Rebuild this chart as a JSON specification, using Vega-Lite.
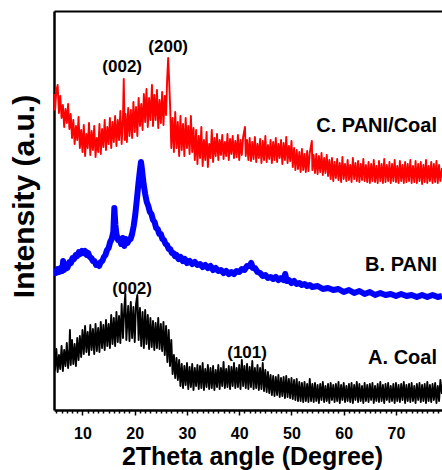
{
  "$schema": "https://vega.github.io/schema/vega-lite/v6.json",
  "autosize": "none",
  "width": 388,
  "height": 399,
  "padding": {"left": 54, "top": 11, "right": 0, "bottom": 60},
  "config": {
    "view": {"stroke": null},
    "font": "Liberation Sans",
    "axis": {"grid": false},
    "axisY": {
      "labels": false, "ticks": false,
      "domainColor": "#000000", "domainWidth": 2.5,
      "titleColor": "#000000", "titleFontSize": 30, "titleFontWeight": "bold",
      "titlePadding": 15, "titleY": 185
    }
  },
  "datasets": {
    "paniCoal": [
      {"angle":4.6,"counts":316},{"angle":4.75,"counts":300},{"angle":5.0,"counts":319},{"angle":5.25,"counts":325},{"angle":5.5,"counts":297},{"angle":5.75,"counts":314},{"angle":6.0,"counts":292},{"angle":6.25,"counts":305},{"angle":6.5,"counts":283},{"angle":6.75,"counts":301},{"angle":7.0,"counts":287},{"angle":7.25,"counts":306},{"angle":7.5,"counts":281},{"angle":7.75,"counts":296},{"angle":8.0,"counts":272},{"angle":8.25,"counts":290},{"angle":8.5,"counts":266},{"angle":8.75,"counts":284},{"angle":9.0,"counts":270},{"angle":9.25,"counts":293},{"angle":9.5,"counts":262},{"angle":9.75,"counts":280},
      {"angle":10.0,"counts":258},{"angle":10.25,"counts":285},{"angle":10.5,"counts":254},{"angle":10.75,"counts":276},{"angle":11.0,"counts":262},{"angle":11.25,"counts":287},{"angle":11.5,"counts":255},{"angle":11.75,"counts":279},{"angle":12.0,"counts":260},{"angle":12.25,"counts":284},{"angle":12.5,"counts":253},{"angle":12.75,"counts":272},{"angle":13.0,"counts":258},{"angle":13.25,"counts":286},{"angle":13.5,"counts":256},{"angle":13.75,"counts":281},{"angle":14.0,"counts":263},{"angle":14.25,"counts":290},{"angle":14.5,"counts":260},{"angle":14.75,"counts":283},{"angle":15.0,"counts":266},{"angle":15.25,"counts":292},{"angle":15.5,"counts":262},{"angle":15.75,"counts":288},{"angle":16.0,"counts":268},{"angle":16.25,"counts":294},{"angle":16.5,"counts":264},{"angle":16.75,"counts":290},{"angle":17.0,"counts":270},{"angle":17.25,"counts":299},{"angle":17.5,"counts":266},{"angle":17.75,"counts":292},{"angle":17.9,"counts":331},{"angle":18.1,"counts":270},{"angle":18.25,"counts":296},{"angle":18.5,"counts":268},{"angle":18.75,"counts":302},{"angle":19.0,"counts":274},{"angle":19.25,"counts":300},{"angle":19.5,"counts":272},{"angle":19.75,"counts":308},
      {"angle":20.0,"counts":278},{"angle":20.25,"counts":303},{"angle":20.5,"counts":274},{"angle":20.75,"counts":312},{"angle":21.0,"counts":284},{"angle":21.25,"counts":306},{"angle":21.5,"counts":280},{"angle":21.75,"counts":316},{"angle":22.0,"counts":288},{"angle":22.25,"counts":321},{"angle":22.5,"counts":283},{"angle":22.75,"counts":312},{"angle":23.0,"counts":290},{"angle":23.3,"counts":325},{"angle":23.5,"counts":284},{"angle":23.75,"counts":315},{"angle":24.0,"counts":290},{"angle":24.25,"counts":320},{"angle":24.5,"counts":282},{"angle":24.75,"counts":310},{"angle":25.0,"counts":287},{"angle":25.25,"counts":318},{"angle":25.5,"counts":285},{"angle":25.75,"counts":314},{"angle":26.0,"counts":295},{"angle":26.2,"counts":330},{"angle":26.4,"counts":352},{"angle":26.6,"counts":328},{"angle":26.8,"counts":300},{"angle":27.0,"counts":262},{"angle":27.25,"counts":292},{"angle":27.5,"counts":258},{"angle":27.75,"counts":298},{"angle":28.0,"counts":262},{"angle":28.25,"counts":288},{"angle":28.5,"counts":254},{"angle":28.75,"counts":294},{"angle":29.0,"counts":260},{"angle":29.25,"counts":286},{"angle":29.5,"counts":254},{"angle":29.75,"counts":292},
      {"angle":30.0,"counts":262},{"angle":30.25,"counts":284},{"angle":30.5,"counts":256},{"angle":30.75,"counts":294},{"angle":31.0,"counts":258},{"angle":31.25,"counts":282},{"angle":31.5,"counts":250},{"angle":31.75,"counts":280},{"angle":32.0,"counts":246},{"angle":32.25,"counts":274},{"angle":32.5,"counts":252},{"angle":32.75,"counts":283},{"angle":33.0,"counts":244},{"angle":33.25,"counts":270},{"angle":33.5,"counts":250},{"angle":33.75,"counts":278},{"angle":34.0,"counts":243},{"angle":34.25,"counts":266},{"angle":34.5,"counts":252},{"angle":34.75,"counts":280},{"angle":35.0,"counts":248},{"angle":35.25,"counts":272},{"angle":35.5,"counts":254},{"angle":35.75,"counts":276},{"angle":36.0,"counts":250},{"angle":36.25,"counts":270},{"angle":36.5,"counts":255},{"angle":36.75,"counts":275},{"angle":37.0,"counts":251},{"angle":37.25,"counts":268},{"angle":37.5,"counts":254},{"angle":37.75,"counts":276},{"angle":38.0,"counts":250},{"angle":38.25,"counts":271},{"angle":38.5,"counts":256},{"angle":38.75,"counts":274},{"angle":39.0,"counts":252},{"angle":39.25,"counts":269},{"angle":39.5,"counts":253},{"angle":39.75,"counts":275},
      {"angle":40.0,"counts":250},{"angle":40.25,"counts":270},{"angle":40.5,"counts":255},{"angle":40.75,"counts":273},{"angle":41.1,"counts":283},{"angle":41.25,"counts":254},{"angle":41.5,"counts":270},{"angle":41.75,"counts":250},{"angle":42.0,"counts":272},{"angle":42.25,"counts":249},{"angle":42.5,"counts":268},{"angle":42.75,"counts":251},{"angle":43.0,"counts":273},{"angle":43.25,"counts":248},{"angle":43.5,"counts":266},{"angle":43.75,"counts":252},{"angle":44.0,"counts":271},{"angle":44.25,"counts":247},{"angle":44.5,"counts":269},{"angle":44.75,"counts":250},{"angle":45.0,"counts":274},{"angle":45.25,"counts":248},{"angle":45.5,"counts":265},{"angle":45.75,"counts":251},{"angle":46.0,"counts":270},{"angle":46.25,"counts":247},{"angle":46.5,"counts":268},{"angle":46.75,"counts":250},{"angle":47.0,"counts":272},{"angle":47.25,"counts":248},{"angle":47.5,"counts":266},{"angle":47.75,"counts":252},{"angle":48.0,"counts":270},{"angle":48.25,"counts":246},{"angle":48.5,"counts":267},{"angle":48.75,"counts":250},{"angle":49.0,"counts":273},{"angle":49.25,"counts":247},{"angle":49.5,"counts":264},{"angle":49.75,"counts":249},
      {"angle":50.0,"counts":269},{"angle":50.25,"counts":243},{"angle":50.5,"counts":262},{"angle":50.75,"counts":240},{"angle":51.0,"counts":260},{"angle":51.25,"counts":241},{"angle":51.5,"counts":258},{"angle":51.75,"counts":238},{"angle":52.0,"counts":261},{"angle":52.25,"counts":240},{"angle":52.5,"counts":256},{"angle":52.75,"counts":238},{"angle":53.0,"counts":259},{"angle":53.25,"counts":239},{"angle":53.5,"counts":257},{"angle":53.9,"counts":269},{"angle":54.0,"counts":240},{"angle":54.25,"counts":255},{"angle":54.5,"counts":237},{"angle":54.75,"counts":256},{"angle":55.0,"counts":236},{"angle":55.25,"counts":254},{"angle":55.5,"counts":238},{"angle":55.75,"counts":257},{"angle":56.0,"counts":235},{"angle":56.25,"counts":252},{"angle":56.5,"counts":237},{"angle":56.75,"counts":255},{"angle":57.0,"counts":234},{"angle":57.25,"counts":250},{"angle":57.5,"counts":231},{"angle":57.75,"counts":252},{"angle":58.0,"counts":229},{"angle":58.25,"counts":248},{"angle":58.5,"counts":232},{"angle":58.75,"counts":251},{"angle":59.0,"counts":230},{"angle":59.25,"counts":247},{"angle":59.5,"counts":228},{"angle":59.75,"counts":253},
      {"angle":60.0,"counts":231},{"angle":60.25,"counts":246},{"angle":60.5,"counts":229},{"angle":60.75,"counts":250},{"angle":61.0,"counts":230},{"angle":61.25,"counts":245},{"angle":61.5,"counts":228},{"angle":61.75,"counts":252},{"angle":62.0,"counts":231},{"angle":62.25,"counts":247},{"angle":62.5,"counts":229},{"angle":62.75,"counts":249},{"angle":63.0,"counts":228},{"angle":63.25,"counts":246},{"angle":63.5,"counts":230},{"angle":63.75,"counts":251},{"angle":64.0,"counts":229},{"angle":64.25,"counts":245},{"angle":64.5,"counts":228},{"angle":64.75,"counts":248},{"angle":65.0,"counts":227},{"angle":65.25,"counts":246},{"angle":65.5,"counts":229},{"angle":65.75,"counts":250},{"angle":66.0,"counts":228},{"angle":66.25,"counts":244},{"angle":66.5,"counts":227},{"angle":66.75,"counts":249},{"angle":67.0,"counts":229},{"angle":67.25,"counts":246},{"angle":67.5,"counts":227},{"angle":67.75,"counts":251},{"angle":68.0,"counts":228},{"angle":68.25,"counts":245},{"angle":68.5,"counts":229},{"angle":68.75,"counts":248},{"angle":69.0,"counts":227},{"angle":69.25,"counts":246},{"angle":69.5,"counts":229},{"angle":69.75,"counts":250},
      {"angle":70.0,"counts":228},{"angle":70.25,"counts":244},{"angle":70.5,"counts":227},{"angle":70.75,"counts":249},{"angle":71.0,"counts":229},{"angle":71.25,"counts":245},{"angle":71.5,"counts":227},{"angle":71.75,"counts":248},{"angle":72.0,"counts":228},{"angle":72.25,"counts":246},{"angle":72.5,"counts":229},{"angle":72.75,"counts":250},{"angle":73.0,"counts":227},{"angle":73.25,"counts":244},{"angle":73.5,"counts":228},{"angle":73.75,"counts":249},{"angle":74.0,"counts":227},{"angle":74.25,"counts":246},{"angle":74.5,"counts":229},{"angle":74.75,"counts":248},{"angle":75.0,"counts":226},{"angle":75.25,"counts":245},{"angle":75.5,"counts":228},{"angle":75.75,"counts":250},{"angle":76.0,"counts":227},{"angle":76.25,"counts":244},{"angle":76.5,"counts":229},{"angle":76.75,"counts":248},{"angle":77.0,"counts":227},{"angle":77.25,"counts":246},{"angle":77.5,"counts":228},{"angle":77.75,"counts":249},{"angle":78.0,"counts":227},{"angle":78.25,"counts":245},{"angle":78.5,"counts":229},{"angle":78.8,"counts":242}
    ],
    "pani": [
      {"angle":4.6,"counts":140},{"angle":4.9,"counts":137},{"angle":5.2,"counts":141},{"angle":5.5,"counts":138},{"angle":5.8,"counts":142},{"angle":6.1,"counts":139},{"angle":6.3,"counts":149},{"angle":6.5,"counts":140},{"angle":6.8,"counts":144},{"angle":7.1,"counts":142},{"angle":7.5,"counts":148},{"angle":7.8,"counts":147},{"angle":8.1,"counts":152},{"angle":8.4,"counts":151},{"angle":8.7,"counts":155},{"angle":9.0,"counts":154},{"angle":9.3,"counts":158},{"angle":9.6,"counts":156},{"angle":9.9,"counts":159},{"angle":10.2,"counts":157},{"angle":10.5,"counts":159},{"angle":10.8,"counts":155},{"angle":11.1,"counts":157},{"angle":11.4,"counts":153},{"angle":11.7,"counts":152},{"angle":12.0,"counts":149},{"angle":12.3,"counts":149},{"angle":12.6,"counts":145},{"angle":12.9,"counts":146},{"angle":13.2,"counts":144},{"angle":13.5,"counts":148},{"angle":13.8,"counts":149},{"angle":14.1,"counts":153},{"angle":14.4,"counts":155},{"angle":14.7,"counts":160},{"angle":15.0,"counts":162},{"angle":15.3,"counts":168},{"angle":15.6,"counts":171},{"angle":15.9,"counts":178},{"angle":16.1,"counts":202},{"angle":16.3,"counts":185},{"angle":16.5,"counts":176},{"angle":16.8,"counts":170},{"angle":17.1,"counts":171},{"angle":17.4,"counts":166},{"angle":17.7,"counts":172},{"angle":18.0,"counts":164},{"angle":18.3,"counts":171},{"angle":18.6,"counts":167},{"angle":18.9,"counts":170},{"angle":19.2,"counts":171},{"angle":19.5,"counts":176},{"angle":19.8,"counts":184},
      {"angle":20.1,"counts":195},{"angle":20.4,"counts":210},{"angle":20.7,"counts":226},{"angle":21.0,"counts":240},{"angle":21.2,"counts":248},{"angle":21.4,"counts":240},{"angle":21.7,"counts":226},{"angle":22.0,"counts":216},{"angle":22.3,"counts":208},{"angle":22.6,"counts":204},{"angle":22.9,"counts":198},{"angle":23.2,"counts":196},{"angle":23.5,"counts":190},{"angle":23.8,"counts":188},{"angle":24.1,"counts":182},{"angle":24.4,"counts":181},{"angle":24.7,"counts":176},{"angle":25.0,"counts":176},{"angle":25.3,"counts":171},{"angle":25.6,"counts":170},{"angle":25.9,"counts":166},{"angle":26.2,"counts":165},{"angle":26.5,"counts":161},{"angle":26.8,"counts":161},{"angle":27.1,"counts":157},{"angle":27.4,"counts":157},{"angle":27.7,"counts":154},{"angle":28.0,"counts":155},{"angle":28.4,"counts":151},{"angle":28.8,"counts":153},{"angle":29.2,"counts":149},{"angle":29.6,"counts":151},{"angle":30.0,"counts":147},{"angle":30.5,"counts":149},{"angle":31.0,"counts":146},{"angle":31.5,"counts":148},{"angle":32.0,"counts":145},{"angle":32.5,"counts":146},{"angle":33.0,"counts":143},{"angle":33.5,"counts":145},{"angle":34.0,"counts":142},{"angle":34.5,"counts":144},{"angle":35.0,"counts":140},{"angle":35.5,"counts":142},{"angle":36.0,"counts":139},{"angle":36.5,"counts":140},{"angle":37.0,"counts":137},{"angle":37.5,"counts":139},{"angle":38.0,"counts":136},{"angle":38.5,"counts":138},{"angle":39.0,"counts":136},{"angle":39.5,"counts":139},
      {"angle":40.0,"counts":138},{"angle":40.5,"counts":141},{"angle":41.0,"counts":140},{"angle":41.5,"counts":144},{"angle":42.0,"counts":144},{"angle":42.3,"counts":147},{"angle":42.6,"counts":142},{"angle":43.0,"counts":142},{"angle":43.5,"counts":138},{"angle":44.0,"counts":137},{"angle":44.5,"counts":134},{"angle":45.0,"counts":135},{"angle":45.5,"counts":132},{"angle":46.0,"counts":133},{"angle":46.5,"counts":131},{"angle":47.0,"counts":133},{"angle":47.5,"counts":130},{"angle":48.0,"counts":132},{"angle":48.5,"counts":130},{"angle":48.8,"counts":136},{"angle":49.1,"counts":129},{"angle":49.5,"counts":130},{"angle":50.0,"counts":127},{"angle":50.5,"counts":129},{"angle":51.0,"counts":126},{"angle":51.5,"counts":127},{"angle":52.0,"counts":125},{"angle":52.5,"counts":126},{"angle":53.0,"counts":124},{"angle":53.5,"counts":125},{"angle":54.0,"counts":123},{"angle":55.0,"counts":124},{"angle":56.0,"counts":121},{"angle":57.0,"counts":122},{"angle":58.0,"counts":120},{"angle":59.0,"counts":121},{"angle":60.0,"counts":118},{"angle":61.0,"counts":120},{"angle":62.0,"counts":117},{"angle":63.0,"counts":119},{"angle":64.0,"counts":116},{"angle":65.0,"counts":118},{"angle":66.0,"counts":115},{"angle":67.0,"counts":117},{"angle":68.0,"counts":115},{"angle":69.0,"counts":116},{"angle":70.0,"counts":114},{"angle":71.0,"counts":116},{"angle":72.0,"counts":114},{"angle":73.0,"counts":115},{"angle":74.0,"counts":113},{"angle":75.0,"counts":115},{"angle":76.0,"counts":113},{"angle":77.0,"counts":115},{"angle":78.0,"counts":113},{"angle":78.8,"counts":114}
    ],
    "coal": [
      {"angle":4.6,"counts":58},{"angle":4.75,"counts":40},{"angle":5.0,"counts":61},{"angle":5.25,"counts":38},{"angle":5.5,"counts":55},{"angle":5.75,"counts":41},{"angle":6.0,"counts":64},{"angle":6.25,"counts":39},{"angle":6.5,"counts":60},{"angle":6.75,"counts":44},{"angle":7.0,"counts":67},{"angle":7.25,"counts":42},{"angle":7.5,"counts":62},{"angle":7.6,"counts":80},{"angle":7.75,"counts":45},{"angle":8.0,"counts":70},{"angle":8.25,"counts":46},{"angle":8.5,"counts":66},{"angle":8.75,"counts":44},{"angle":9.0,"counts":72},{"angle":9.25,"counts":50},{"angle":9.5,"counts":74},{"angle":9.75,"counts":53},
      {"angle":10.0,"counts":80},{"angle":10.25,"counts":56},{"angle":10.5,"counts":84},{"angle":10.75,"counts":58},{"angle":11.0,"counts":78},{"angle":11.25,"counts":55},{"angle":11.5,"counts":85},{"angle":11.75,"counts":60},{"angle":12.0,"counts":81},{"angle":12.25,"counts":56},{"angle":12.5,"counts":86},{"angle":12.75,"counts":59},{"angle":13.0,"counts":82},{"angle":13.25,"counts":58},{"angle":13.5,"counts":88},{"angle":13.75,"counts":62},{"angle":14.0,"counts":85},{"angle":14.25,"counts":60},{"angle":14.5,"counts":90},{"angle":14.75,"counts":64},{"angle":15.0,"counts":86},{"angle":15.25,"counts":62},{"angle":15.5,"counts":95},{"angle":15.75,"counts":66},{"angle":16.0,"counts":92},{"angle":16.25,"counts":64},{"angle":16.5,"counts":98},{"angle":16.75,"counts":68},{"angle":17.0,"counts":94},{"angle":17.25,"counts":67},{"angle":17.5,"counts":106},{"angle":17.75,"counts":72},{"angle":18.0,"counts":102},{"angle":18.2,"counts":116},{"angle":18.4,"counts":70},{"angle":18.75,"counts":104},{"angle":19.0,"counts":69},{"angle":19.25,"counts":108},{"angle":19.5,"counts":72},{"angle":19.75,"counts":103},
      {"angle":20.0,"counts":68},{"angle":20.25,"counts":106},{"angle":20.5,"counts":115},{"angle":20.75,"counts":70},{"angle":21.0,"counts":102},{"angle":21.25,"counts":64},{"angle":21.5,"counts":98},{"angle":21.75,"counts":62},{"angle":22.0,"counts":100},{"angle":22.25,"counts":66},{"angle":22.5,"counts":95},{"angle":22.75,"counts":61},{"angle":23.0,"counts":92},{"angle":23.25,"counts":63},{"angle":23.5,"counts":89},{"angle":23.75,"counts":60},{"angle":24.0,"counts":87},{"angle":24.25,"counts":62},{"angle":24.5,"counts":92},{"angle":24.75,"counts":61},{"angle":25.0,"counts":86},{"angle":25.25,"counts":59},{"angle":25.5,"counts":88},{"angle":25.75,"counts":55},{"angle":26.0,"counts":84},{"angle":26.25,"counts":48},{"angle":26.5,"counts":80},{"angle":26.75,"counts":44},{"angle":27.0,"counts":70},{"angle":27.25,"counts":36},{"angle":27.5,"counts":55},{"angle":27.75,"counts":32},{"angle":28.0,"counts":52},{"angle":28.25,"counts":30},{"angle":28.5,"counts":50},{"angle":28.75,"counts":24},{"angle":29.0,"counts":46},{"angle":29.25,"counts":22},{"angle":29.5,"counts":44},{"angle":29.75,"counts":25},
      {"angle":30.0,"counts":47},{"angle":30.25,"counts":21},{"angle":30.5,"counts":43},{"angle":30.75,"counts":23},{"angle":31.0,"counts":46},{"angle":31.25,"counts":20},{"angle":31.5,"counts":42},{"angle":31.75,"counts":24},{"angle":32.0,"counts":45},{"angle":32.25,"counts":21},{"angle":32.5,"counts":44},{"angle":32.75,"counts":22},{"angle":33.0,"counts":47},{"angle":33.25,"counts":20},{"angle":33.5,"counts":41},{"angle":33.75,"counts":23},{"angle":34.0,"counts":45},{"angle":34.25,"counts":21},{"angle":34.5,"counts":42},{"angle":34.75,"counts":22},{"angle":35.0,"counts":44},{"angle":35.25,"counts":20},{"angle":35.5,"counts":40},{"angle":35.75,"counts":23},{"angle":36.0,"counts":45},{"angle":36.25,"counts":21},{"angle":36.5,"counts":42},{"angle":36.75,"counts":24},{"angle":37.0,"counts":48},{"angle":37.25,"counts":22},{"angle":37.5,"counts":41},{"angle":37.75,"counts":23},{"angle":38.0,"counts":44},{"angle":38.25,"counts":21},{"angle":38.5,"counts":43},{"angle":38.75,"counts":24},{"angle":39.0,"counts":47},{"angle":39.25,"counts":22},{"angle":39.5,"counts":42},{"angle":39.75,"counts":23},
      {"angle":40.0,"counts":45},{"angle":40.25,"counts":21},{"angle":40.5,"counts":50},{"angle":40.75,"counts":24},{"angle":41.0,"counts":44},{"angle":41.25,"counts":22},{"angle":41.5,"counts":46},{"angle":41.75,"counts":21},{"angle":42.0,"counts":43},{"angle":42.25,"counts":23},{"angle":42.5,"counts":49},{"angle":42.75,"counts":21},{"angle":43.0,"counts":42},{"angle":43.25,"counts":22},{"angle":43.5,"counts":45},{"angle":43.75,"counts":20},{"angle":44.0,"counts":42},{"angle":44.25,"counts":21},{"angle":44.5,"counts":47},{"angle":44.75,"counts":19},{"angle":45.0,"counts":40},{"angle":45.25,"counts":18},{"angle":45.5,"counts":38},{"angle":45.75,"counts":17},{"angle":46.0,"counts":35},{"angle":46.25,"counts":15},{"angle":46.5,"counts":34},{"angle":46.75,"counts":14},{"angle":47.0,"counts":33},{"angle":47.25,"counts":15},{"angle":47.5,"counts":35},{"angle":47.75,"counts":13},{"angle":48.0,"counts":32},{"angle":48.25,"counts":14},{"angle":48.5,"counts":33},{"angle":48.75,"counts":12},{"angle":49.0,"counts":34},{"angle":49.25,"counts":13},{"angle":49.5,"counts":31},{"angle":49.75,"counts":12},
      {"angle":50.0,"counts":32},{"angle":50.25,"counts":11},{"angle":50.5,"counts":30},{"angle":50.75,"counts":10},{"angle":51.0,"counts":31},{"angle":51.25,"counts":9},{"angle":51.5,"counts":28},{"angle":51.75,"counts":9},{"angle":52.0,"counts":27},{"angle":52.25,"counts":8},{"angle":52.5,"counts":28},{"angle":52.75,"counts":9},{"angle":53.0,"counts":26},{"angle":53.25,"counts":8},{"angle":53.5,"counts":31},{"angle":53.75,"counts":9},{"angle":54.0,"counts":26},{"angle":54.25,"counts":8},{"angle":54.5,"counts":27},{"angle":54.75,"counts":9},{"angle":55.0,"counts":25},{"angle":55.25,"counts":7},{"angle":55.5,"counts":26},{"angle":55.75,"counts":10},{"angle":56.0,"counts":28},{"angle":56.25,"counts":8},{"angle":56.5,"counts":24},{"angle":56.75,"counts":9},{"angle":57.0,"counts":26},{"angle":57.25,"counts":7},{"angle":57.5,"counts":27},{"angle":57.75,"counts":10},{"angle":58.0,"counts":25},{"angle":58.25,"counts":8},{"angle":58.5,"counts":26},{"angle":58.75,"counts":9},{"angle":59.0,"counts":28},{"angle":59.25,"counts":7},{"angle":59.5,"counts":25},{"angle":59.75,"counts":10},
      {"angle":60.0,"counts":27},{"angle":60.25,"counts":8},{"angle":60.5,"counts":24},{"angle":60.75,"counts":9},{"angle":61.0,"counts":26},{"angle":61.25,"counts":8},{"angle":61.5,"counts":27},{"angle":61.75,"counts":7},{"angle":62.0,"counts":25},{"angle":62.25,"counts":10},{"angle":62.5,"counts":28},{"angle":62.75,"counts":8},{"angle":63.0,"counts":26},{"angle":63.25,"counts":9},{"angle":63.5,"counts":24},{"angle":63.75,"counts":7},{"angle":64.0,"counts":27},{"angle":64.25,"counts":9},{"angle":64.5,"counts":25},{"angle":64.75,"counts":8},{"angle":65.0,"counts":26},{"angle":65.25,"counts":10},{"angle":65.5,"counts":27},{"angle":65.75,"counts":7},{"angle":66.0,"counts":24},{"angle":66.25,"counts":9},{"angle":66.5,"counts":26},{"angle":66.75,"counts":8},{"angle":67.0,"counts":28},{"angle":67.25,"counts":9},{"angle":67.5,"counts":25},{"angle":67.75,"counts":7},{"angle":68.0,"counts":26},{"angle":68.25,"counts":10},{"angle":68.5,"counts":27},{"angle":68.75,"counts":8},{"angle":69.0,"counts":24},{"angle":69.25,"counts":9},{"angle":69.5,"counts":26},{"angle":69.75,"counts":7},
      {"angle":70.0,"counts":27},{"angle":70.25,"counts":9},{"angle":70.5,"counts":25},{"angle":70.75,"counts":8},{"angle":71.0,"counts":26},{"angle":71.25,"counts":10},{"angle":71.5,"counts":28},{"angle":71.75,"counts":7},{"angle":72.0,"counts":25},{"angle":72.25,"counts":9},{"angle":72.5,"counts":26},{"angle":72.75,"counts":8},{"angle":73.0,"counts":27},{"angle":73.25,"counts":9},{"angle":73.5,"counts":24},{"angle":73.75,"counts":7},{"angle":74.0,"counts":26},{"angle":74.25,"counts":10},{"angle":74.5,"counts":27},{"angle":74.75,"counts":8},{"angle":75.0,"counts":25},{"angle":75.25,"counts":9},{"angle":75.5,"counts":26},{"angle":75.75,"counts":7},{"angle":76.0,"counts":28},{"angle":76.25,"counts":9},{"angle":76.5,"counts":25},{"angle":76.75,"counts":8},{"angle":77.0,"counts":26},{"angle":77.25,"counts":10},{"angle":77.5,"counts":27},{"angle":77.75,"counts":7},{"angle":78.0,"counts":24},{"angle":78.25,"counts":9},{"angle":78.5,"counts":30},{"angle":78.8,"counts":16}
    ],
    "peakLabels": [
      {"angle":26.4,"counts":363,"label":"(200)"},
      {"angle":17.6,"counts":343,"label":"(002)"},
      {"angle":19.5,"counts":121,"label":"(002)"},
      {"angle":41.5,"counts":57,"label":"(101)"}
    ],
    "sampleLabels": [
      {"angle":77.85,"counts":284,"label":"C. PANI/Coal"},
      {"angle":77.85,"counts":145,"label":"B. PANI"},
      {"angle":77.85,"counts":52,"label":"A. Coal"}
    ]
  },
  "resolve": {"axis": {"x": "independent"}},
  "layer": [
    {
      "data": {"name": "coal"},
      "mark": {"type": "line", "color": "#000000", "strokeWidth": 1.9, "strokeJoin": "round", "clip": true},
      "encoding": {
        "x": {
          "field": "angle", "type": "quantitative",
          "scale": {"domain": [4.55, 78.81], "nice": false, "zero": false},
          "axis": {
            "values": [5,6,7,8,9,10,11,12,13,14,15,16,17,18,19,20,21,22,23,24,25,26,27,28,29,30,31,32,33,34,35,36,37,38,39,40,41,42,43,44,45,46,47,48,49,50,51,52,53,54,55,56,57,58,59,60,61,62,63,64,65,66,67,68,69,70,71,72,73,74,75,76,77,78],
            "labelExpr": "datum.value % 10 === 0 ? datum.label : ''",
            "labelOverlap": false,
            "tickSize": {"condition": {"test": "datum.value % 10 === 0", "value": 5}, "value": 3},
            "tickWidth": 1.5,
            "tickColor": "#000000",
            "domainColor": "#000000",
            "domainWidth": 2.5,
            "labelColor": "#000000",
            "labelFontSize": 16,
            "labelFontWeight": "bold",
            "labelPadding": 10,
            "title": "2Theta angle (Degree)",
            "titleColor": "#000000",
            "titleFontSize": 25,
            "titleFontWeight": "bold",
            "titlePadding": 3,
            "titleX": 198
          }
        },
        "y": {
          "field": "counts", "type": "quantitative", "title": "Intensity (a.u.)",
          "scale": {"domain": [0, 399], "nice": false}
        }
      }
    },
    {
      "data": {"name": "pani"},
      "mark": {"type": "line", "color": "#0000ff", "strokeWidth": 6, "strokeJoin": "round", "clip": true},
      "encoding": {
        "x": {"field": "angle", "type": "quantitative", "axis": null},
        "y": {"field": "counts", "type": "quantitative", "title": "Intensity (a.u.)"}
      }
    },
    {
      "data": {"name": "paniCoal"},
      "mark": {"type": "line", "color": "#ff0000", "strokeWidth": 1.9, "strokeJoin": "round", "clip": true},
      "encoding": {
        "x": {"field": "angle", "type": "quantitative", "axis": null},
        "y": {"field": "counts", "type": "quantitative", "title": "Intensity (a.u.)"}
      }
    },
    {
      "data": {"name": "sampleLabels"},
      "mark": {"type": "text", "align": "right", "baseline": "middle", "fontSize": 20, "fontWeight": "bold", "color": "#000000"},
      "encoding": {
        "x": {
          "field": "angle", "type": "quantitative",
          "axis": {"orient": "top", "labels": false, "ticks": false, "title": null, "domainColor": "#000000", "domainWidth": 2}
        },
        "y": {"field": "counts", "type": "quantitative", "title": "Intensity (a.u.)"},
        "text": {"field": "label"}
      }
    },
    {
      "data": {"name": "peakLabels"},
      "mark": {"type": "text", "align": "center", "baseline": "middle", "fontSize": 17, "fontWeight": "bold", "color": "#000000"},
      "encoding": {
        "x": {"field": "angle", "type": "quantitative", "axis": null},
        "y": {"field": "counts", "type": "quantitative", "title": "Intensity (a.u.)"},
        "text": {"field": "label"}
      }
    }
  ]
}
